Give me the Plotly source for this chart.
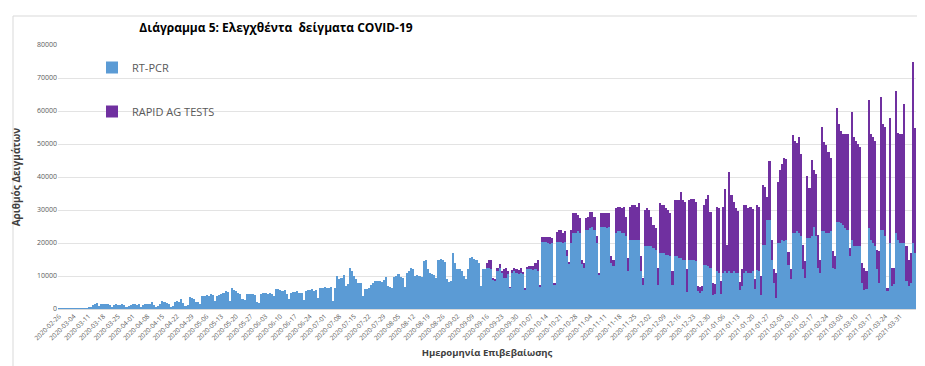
import pandas as pd
import plotly.graph_objects as go

start_date = "2020-02-26"

# Daily RT-PCR samples (one row = one week, Wed..Tue)
pcr_tests = [
    10, 20, 40, 30, 20, 60, 50,
    150, 300, 200, 100, 60, 150, 200,
    400, 700, 1100, 1400, 1700, 1000, 1600,
    1500, 1400, 1500, 1300, 700, 1100, 1400,
    1300, 1200, 1400, 1100, 500, 1000, 1300,
    1400, 1600, 1300, 1500, 700, 1100, 1500,
    1400, 1500, 2000, 1300, 600, 1000, 1400,
    2400, 2200, 1800, 1500, 700, 1000, 2000,
    2300, 2100, 2900, 1800, 900, 1200, 3500,
    3200, 3000, 2000, 2000, 1500, 4000, 4000,
    4100, 4000, 4500, 4300, 2500, 4000, 4300,
    4500, 4800, 5400, 5300, 2500, 6300, 5800,
    5500, 4800, 4500, 3000, 2800, 4500, 4600,
    4400, 4500, 4200, 2000, 1800, 4500, 4700,
    4800, 4600, 5000, 4500, 3800, 6000, 6000,
    5700, 5500, 5800, 4500, 3000, 5000, 5300,
    5200, 5500, 5000, 4800, 2800, 5500, 5800,
    5700, 6000, 5600, 5800, 3200, 6300, 6500,
    6800, 6500, 6500, 6600, 2500, 6500, 10000,
    9000, 9500, 10200, 7000, 7500, 12300, 11500,
    10000, 9000, 8000, 8000, 3800, 6000, 6000,
    6300, 7200, 7800, 8500, 8400, 8600, 8300,
    8800, 9800, 7000, 6800, 6500, 9600, 10000,
    10500, 9800, 9500, 6800, 11000, 11500, 12500,
    12000, 10000, 10200, 10000, 9800, 14500, 14800,
    12000, 11000, 10500, 10200, 9500, 15000, 15300,
    15000, 14200, 9000, 8300, 8500, 17000, 13800,
    12000, 12200, 11500, 10000, 9000, 12000, 15500,
    15800, 15200, 15000, 14000, 6900, 12000, 12200,
    12500, 12300, 12000, 9000, 8500, 11500, 12500,
    11000, 9500, 9500, 10500, 6400, 11000, 11500,
    11000, 10500, 11000, 10500, 5900, 12000, 12000,
    12000, 11800, 12000, 11500, 6900, 20400, 20400,
    20400, 20000, 19800, 20000, 7500, 20400, 20400,
    20400, 20000, 20400, 16000, 13500, 20000, 23000,
    23000, 23500, 23000, 13500, 12500, 24000, 24000,
    24500, 25000, 24000, 20000, 10500, 25000, 25000,
    25000, 24500, 25000, 14000, 13000, 23000, 23500,
    23500, 23000, 23000, 22000, 11400, 21000, 21000,
    21000, 21000, 21000, 11400, 7300, 19000, 19000,
    19000, 19000, 18500, 18000, 7400, 17000, 17000,
    17000, 16500, 16500, 16000, 7400, 16000, 16000,
    15500, 15500, 15000, 15000, 5300, 15000, 15000,
    15000, 14500, 5400, 5000, 5500, 13400, 13400,
    13000, 12500, 4300, 4500, 11400, 11000, 4500,
    11000, 11400, 11000, 11400, 11000, 11400, 11000,
    11000, 5800, 7000, 11000, 11400, 11000, 10800,
    11400, 6000, 11900, 11500, 4300, 19500, 19500,
    27000, 27000, 15000, 8000, 3300, 20000, 20000,
    21000, 20500, 21000, 13400, 9000, 23000, 23000,
    23500, 23000, 22000, 12000, 9400, 21500, 21500,
    22000, 25000, 22000, 12400, 11000, 23500, 23500,
    23000, 23000, 23500, 12400, 12000, 26500, 26500,
    26000, 25500, 24500, 24000, 16000, 21000, 19000,
    19000, 19000, 19000, 8000, 5900, 6000, 24500,
    21000, 20000, 19000, 12000, 7900, 24000, 24000,
    22000, 5400, 20000, 7000, 7500, 23000, 21000,
    20000, 20000, 20000, 8400, 7000, 8000, 20000,
    17000,
]

# Daily rapid antigen tests (zero before late September 2020)
rapid_tests = [0] * 203 + [
    1500, 2500, 2800, 500, 300, 800, 1000,
    500, 2500, 3000, 1000, 200, 800, 1000,
    1000, 1200, 1500, 800, 200, 800, 1000,
    1000, 1200, 1800, 3500, 300, 1500, 1300,
    1500, 1800, 2000, 1500, 200, 3000, 3500,
    3500, 3000, 3200, 2000, 800, 4000, 6000,
    6000, 5000, 4500, 1500, 1500, 3500, 4000,
    5000, 4500, 4000, 2000, 500, 4000, 4000,
    4000, 4500, 4000, 2000, 2000, 7500, 7500,
    7500, 7500, 8000, 6000, 4100, 10000, 10500,
    10500, 10000, 11000, 4600, 2000, 11000, 11500,
    11000, 9000, 7000, 6500, 5000, 15000, 14500,
    14500, 14000, 13500, 13000, 4000, 17000, 17000,
    17500, 20100, 18000, 17500, 6700, 18000, 18400,
    18400, 18000, 1500, 1800, 1400, 18000, 20000,
    21600, 17000, 3500, 3000, 19600, 19500, 4000,
    20000, 25000, 8500, 30000, 23600, 21000, 19600,
    18600, 2500, 5000, 20500, 20000, 19500, 20000,
    19000, 3000, 19700, 19500, 5700, 18000, 17500,
    7000, 18000, 6000, 4000, 7700, 18500, 22000,
    23000, 25200, 24500, 4000, 3000, 29800, 28000,
    26800, 29000, 25000, 7500, 5000, 18700, 15200,
    23200, 17000, 19000, 10100, 4000, 31800, 27000,
    26800, 24500, 22200, 5100, 4000, 34500, 29500,
    28000, 27500, 28500, 29000, 2500, 38700, 33000,
    32000, 31000, 30000, 6000, 6500, 5500, 38900,
    32000, 32000, 32000, 6000, 9600, 40100, 32000,
    33300, 1000, 37900, 5400, 5000, 43000, 32300,
    33000, 33000, 42000, 10600, 8000, 9000, 55000,
    37800,
]

dates = [d.strftime("%Y-%m-%d") for d in pd.date_range(start_date, periods=len(pcr_tests), freq="D")]
tick_labels = dates[0:400:7]
y_ticks = list(range(0, 80001, 10000))

BLUE = "#5B9BD5"
PURPLE = "#7030A0"
GREY = "#595959"

fig = go.Figure()
fig.add_trace(go.Bar(x=dates, y=pcr_tests, name="RT-PCR", marker_color=BLUE,
                     marker_line_width=0, legendgroup="a"))
fig.add_trace(go.Bar(x=dates, y=rapid_tests, name="RAPID AG TESTS", marker_color=PURPLE,
                     marker_line_width=0, legendgroup="b"))

W, H = 925, 366
L, R, T, B = 50, 17, 37, 65
pw, ph = W - L - R, H - T - B

def px(x):
    return (x - L) / pw

def py(y):
    return (H - B - y) / ph

fig.update_layout(
    width=W, height=H,
    margin=dict(l=L, r=R, t=T, b=B, autoexpand=False),
    barmode="stack", bargap=0,
    paper_bgcolor="white", plot_bgcolor="white",
    font=dict(family="Open Sans, Noto Sans, sans-serif", color=GREY),
    title=dict(text="<b>Διάγραμμα 5: Ελεγχθέντα  δείγματα COVID-19</b>",
               x=268 / W, xanchor="center", y=1 - 20 / H, yanchor="middle",
               font=dict(size=12, color="#000000", family="Open Sans, Noto Sans, sans-serif")),
    legend=dict(x=px(84), y=py(45), xanchor="left", yanchor="top",
                font=dict(size=11, color=GREY), tracegroupgap=25,
                traceorder="grouped", bgcolor="rgba(0,0,0,0)", itemwidth=30),
    xaxis=dict(type="category", tickmode="array", tickvals=tick_labels, ticktext=tick_labels,
               tickangle=-45, tickfont=dict(size=6.5, color=GREY), showgrid=False,
               showline=True, linecolor="#D9D9D9", ticks="",
               title=dict(text="<b>Ημερομηνία Επιβεβαίωσης</b>", font=dict(size=9.5, color="#404040"),
                          standoff=8)),
    yaxis=dict(range=[0, 80000], tickvals=y_ticks, tickformat="d", tickfont=dict(size=7, color=GREY),
               showgrid=True, gridcolor="#E3E3E3", gridwidth=1, zeroline=False,
               ticks="", showline=False,
               title=dict(text="<b>Αριθμός Δειγμάτων</b>", font=dict(size=10, color="#404040"),
                          standoff=14)),
    shapes=[dict(type="rect", xref="paper", yref="paper",
                 x0=px(5), x1=px(918), y0=py(362), y1=py(8),
                 line=dict(color="#D9D9D9", width=1), fillcolor="rgba(0,0,0,0)", layer="below")],
)

fig.write_html("out.html")
